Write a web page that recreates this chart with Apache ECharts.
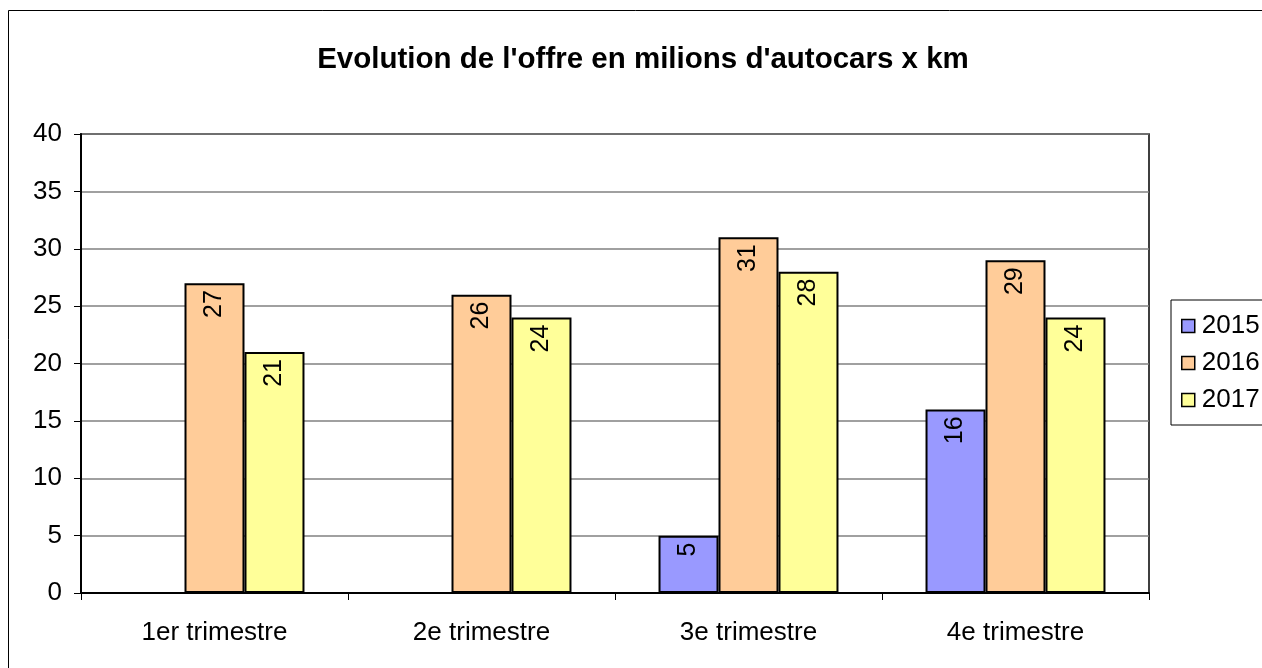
<!DOCTYPE html>
<html>
<head>
<meta charset="utf-8">
<script src="https://cdn.jsdelivr.net/npm/echarts@6/dist/echarts.min.js"></script>
<style>
  html, body { margin: 0; padding: 0; background: #fff; }
  #main { width: 1262px; height: 668px; }
</style>
</head>
<body>
<div id="main"></div>
<script>
// Data
var categories = ['1er trimestre', '2e trimestre', '3e trimestre', '4e trimestre'];
var years = ['2015', '2016', '2017'];
var values2015 = [null, null, 5, 16];
var values2016 = [27, 26, 31, 29];
var values2017 = [21, 24, 28, 24];
var yTicks = [0, 5, 10, 15, 20, 25, 30, 35, 40];

var colors = ['#9999FF', '#FFCC99', '#FFFF99'];
var font = 'Liberation Sans, Arial, sans-serif';

var chart = echarts.init(document.getElementById('main'), null, { renderer: 'canvas' });

function makeSeries(name, data, color) {
  return {
    name: name,
    type: 'bar',
    data: data,
    barGap: '0%',
    barCategoryGap: '32.6%',
    itemStyle: { color: color, borderColor: '#000', borderWidth: 2 },
    label: {
      show: true,
      position: 'insideTop',
      rotate: 90,
      distance: 7,
      align: 'right',
      verticalAlign: 'middle',
      color: '#000',
      fontFamily: font,
      fontSize: 25
    }
  };
}

var option = {
  animation: false,
  backgroundColor: '#fff',
  title: {
    text: "Evolution de l'offre en milions d'autocars x km",
    left: 638,
    textAlign: 'center',
    top: 40,
    textStyle: { fontFamily: font, fontSize: 29.5, fontWeight: 'bold', color: '#000' }
  },
  graphic: [{
    type: 'rect',
    shape: { x: 8.5, y: 10.5, width: 1400, height: 800 },
    style: { fill: 'none', stroke: '#000', lineWidth: 1 },
    silent: true
  }],
  legend: {
    data: years,
    orient: 'vertical',
    left: 1171,
    top: 300,
    itemWidth: 13,
    itemHeight: 13,
    itemGap: 11,
    padding: [13, 12, 12, 10],
    borderColor: '#000',
    borderWidth: 1,
    icon: 'rect',
    itemStyle: { borderColor: '#000', borderWidth: 1.5 },
    textStyle: { fontFamily: font, fontSize: 26, color: '#000', padding: [0, 0, 0, 2] }
  },
  grid: {
    left: 81,
    right: 113,
    top: 134,
    bottom: 75,
    show: true,
    borderColor: '#000',
    borderWidth: 1.5,
    backgroundColor: '#fff'
  },
  xAxis: {
    type: 'category',
    data: categories,
    axisLine: { lineStyle: { color: '#000', width: 2 } },
    axisTick: { show: true, length: 7, alignWithLabel: false, lineStyle: { color: '#000' } },
    axisLabel: { fontFamily: font, fontSize: 26, color: '#000', margin: 27 }
  },
  yAxis: {
    type: 'value',
    min: yTicks[0],
    max: yTicks[yTicks.length - 1],
    interval: yTicks[1] - yTicks[0],
    axisLine: { show: true, lineStyle: { color: '#000', width: 2 } },
    axisTick: { show: true, length: 7, lineStyle: { color: '#000' } },
    axisLabel: { fontFamily: font, fontSize: 26, color: '#000', margin: 19 },
    splitLine: { lineStyle: { color: '#808080', width: 1.5 } }
  },
  series: [
    makeSeries(years[0], values2015, colors[0]),
    makeSeries(years[1], values2016, colors[1]),
    makeSeries(years[2], values2017, colors[2])
  ]
};

chart.setOption(option);
</script>
</body>
</html>
